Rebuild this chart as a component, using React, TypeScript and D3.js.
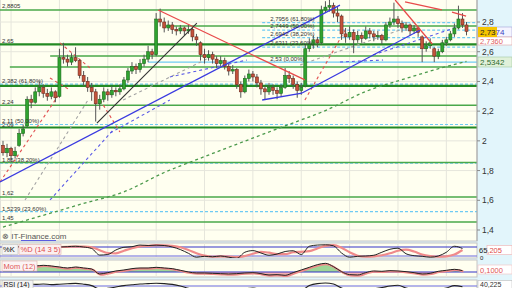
import React from "react";
import * as d3 from "d3";

// ---------- DATA ----------
// candles: [open, high, low, close]
const candles: [number, number, number, number][] = [
  [1.97, 2.0, 1.9, 1.92], [1.92, 1.98, 1.89, 1.95], [1.95, 1.96, 1.86, 1.9], [1.9, 1.96, 1.88, 1.93],
  [1.97, 2.08, 1.96, 2.05], [2.05, 2.11, 2.03, 2.08], [2.1, 2.3, 2.09, 2.28], [2.28, 2.31, 2.22, 2.26],
  [2.26, 2.36, 2.25, 2.33], [2.33, 2.4, 2.3, 2.36], [2.36, 2.38, 2.29, 2.32], [2.32, 2.35, 2.27, 2.3],
  [2.3, 2.36, 2.28, 2.33], [2.33, 2.34, 2.26, 2.29], [2.3, 2.62, 2.29, 2.56], [2.56, 2.66, 2.52, 2.55],
  [2.55, 2.58, 2.5, 2.53], [2.53, 2.59, 2.51, 2.56], [2.56, 2.63, 2.53, 2.54], [2.54, 2.55, 2.42, 2.44],
  [2.44, 2.47, 2.37, 2.4], [2.4, 2.43, 2.33, 2.36], [2.36, 2.39, 2.27, 2.33], [2.33, 2.35, 2.13, 2.25],
  [2.25, 2.31, 2.21, 2.28], [2.28, 2.36, 2.26, 2.33], [2.33, 2.35, 2.27, 2.31], [2.31, 2.37, 2.29, 2.34],
  [2.34, 2.36, 2.3, 2.33], [2.33, 2.38, 2.31, 2.35], [2.35, 2.43, 2.34, 2.41], [2.41, 2.49, 2.39, 2.47],
  [2.47, 2.53, 2.45, 2.5], [2.5, 2.52, 2.45, 2.48], [2.48, 2.55, 2.46, 2.52], [2.52, 2.58, 2.5, 2.55],
  [2.55, 2.64, 2.53, 2.6], [2.6, 2.62, 2.55, 2.58], [2.58, 2.86, 2.57, 2.82], [2.82, 2.89, 2.77, 2.8],
  [2.8, 2.83, 2.73, 2.76], [2.76, 2.81, 2.74, 2.78], [2.78, 2.8, 2.72, 2.75], [2.75, 2.77, 2.71, 2.74],
  [2.74, 2.78, 2.72, 2.76], [2.76, 2.77, 2.71, 2.74], [2.74, 2.78, 2.72, 2.75], [2.75, 2.76, 2.67, 2.7],
  [2.7, 2.72, 2.64, 2.68], [2.66, 2.67, 2.54, 2.58], [2.58, 2.62, 2.52, 2.56], [2.56, 2.61, 2.54, 2.58],
  [2.58, 2.6, 2.52, 2.55], [2.55, 2.57, 2.49, 2.52], [2.52, 2.57, 2.5, 2.54], [2.54, 2.56, 2.48, 2.5],
  [2.5, 2.52, 2.44, 2.47], [2.47, 2.51, 2.45, 2.48], [2.48, 2.49, 2.35, 2.38], [2.38, 2.4, 2.29, 2.33],
  [2.33, 2.44, 2.32, 2.42], [2.42, 2.48, 2.4, 2.45], [2.45, 2.47, 2.4, 2.43], [2.43, 2.45, 2.36, 2.39],
  [2.39, 2.41, 2.31, 2.35], [2.35, 2.37, 2.28, 2.33], [2.33, 2.39, 2.31, 2.36], [2.36, 2.38, 2.31, 2.34],
  [2.34, 2.36, 2.28, 2.32], [2.32, 2.38, 2.3, 2.36], [2.36, 2.49, 2.35, 2.44], [2.44, 2.47, 2.39, 2.42],
  [2.42, 2.44, 2.35, 2.38], [2.38, 2.4, 2.29, 2.34], [2.34, 2.39, 2.31, 2.36], [2.37, 2.65, 2.36, 2.62],
  [2.62, 2.69, 2.6, 2.65], [2.65, 2.71, 2.62, 2.68], [2.68, 2.7, 2.63, 2.66], [2.66, 2.91, 2.65, 2.88],
  [2.88, 2.94, 2.86, 2.9], [2.9, 2.95, 2.87, 2.91], [2.91, 2.93, 2.83, 2.86], [2.86, 2.9, 2.8, 2.84],
  [2.84, 2.85, 2.68, 2.72], [2.72, 2.76, 2.66, 2.7], [2.7, 2.77, 2.68, 2.73], [2.73, 2.75, 2.59, 2.68],
  [2.68, 2.74, 2.66, 2.71], [2.71, 2.73, 2.66, 2.69], [2.69, 2.77, 2.68, 2.74], [2.74, 2.76, 2.69, 2.72],
  [2.72, 2.74, 2.67, 2.7], [2.7, 2.74, 2.68, 2.71], [2.71, 2.72, 2.65, 2.68], [2.68, 2.8, 2.67, 2.78],
  [2.78, 2.83, 2.76, 2.8], [2.8, 2.93, 2.78, 2.82], [2.82, 2.84, 2.76, 2.79], [2.79, 2.81, 2.73, 2.76],
  [2.76, 2.8, 2.74, 2.78], [2.78, 2.79, 2.71, 2.74], [2.74, 2.78, 2.72, 2.76], [2.76, 2.77, 2.7, 2.73],
  [2.7, 2.71, 2.53, 2.62], [2.62, 2.67, 2.6, 2.64], [2.64, 2.69, 2.62, 2.66], [2.62, 2.63, 2.53, 2.57],
  [2.57, 2.62, 2.55, 2.6], [2.6, 2.68, 2.59, 2.66], [2.66, 2.7, 2.64, 2.68], [2.68, 2.74, 2.67, 2.72],
  [2.72, 2.79, 2.7, 2.76], [2.76, 2.91, 2.75, 2.82], [2.82, 2.86, 2.76, 2.78], [2.78, 2.8, 2.71, 2.7374],
];

const priceTicks = [2.8, 2.6, 2.4, 2.2, 2.0, 1.8, 1.6, 1.4];
const priceTickLabels = ["2,8", "2,6", "2,4", "2,2", "2", "1,8", "1,6", "1,4"];
const gridBars = [2, 14, 26, 38, 50, 62, 74, 86, 98, 110];

// horizontal support / resistance levels (green)
const supportPrices = [2.8805, 2.773, 2.65, 2.571, 2.497, 2.37, 2.24, 2.09, 1.855, 1.622, 1.454];
const supportFromBar = [-1, 40.5, -1, 11.7, 1.7, -1, -1, -1, -1, -1, -1];
const majorSupports = [2.65, 2.37, 2.09];
const levelLabelPrices = [2.8805, 2.65, 2.24, 1.622, 1.454];
const levelLabelTexts = ["2,8805", "2,65", "2,24", "1,62", "1,45"];

// long-term Fibonacci retracement (left)
const fibLeftPrices = [2.382, 2.11, 1.85, 1.5239];
const fibLeftTexts = ["2,382 (61,80%)", "2,11 (50,00%)", "1,85 (38,20%)", "1,5239 (23,60%)"];
// short-term Fibonacci retracement (right)
const fibRightPrices = [2.7956, 2.7449, 2.6942, 2.6311];
const fibRightTexts = ["2,7956 (61,80%)", "2,7449 (50,00%)", "2,6942 (38,20%)", "2,6311 (23,60%)"];
const fibRightFromBar = 64.3;
const fibZeroPrice = 2.53;
const fibZeroText = "2,53 (0,00%)";
const fibZeroFromBar = 36;

// long moving average (bar index, value)
const maBars = [0, 10, 20, 30, 40, 50, 60, 70, 80, 90, 100, 110, 115];
const maValues = [1.42, 1.499, 1.579, 1.657, 1.787, 1.894, 1.998, 2.101, 2.204, 2.332, 2.42, 2.5, 2.5342];

// drawn trend lines [bar1, price1, bar2, price2]
const blueSolid = [[-0.74, 1.723, 83.6, 2.914], [64.3, 2.275, 74.2, 2.322], [74.2, 2.322, 103.5, 2.746]];
const redSolid = [[38.5, 2.881, 74.9, 2.41], [97.3, 2.948, 106.5, 2.652], [99.75, 2.935, 108.9, 2.881], [111.4, 2.867, 114.9, 2.84]];
const blackSolid = [[23.3, 2.12, 48.1, 2.793]];
const redDashed = [[-0.74, 1.723, 14.14, 2.322], [14.14, 2.659, 21.6, 2.49], [11.66, 2.423, 16.6, 2.342], [24.1, 2.275, 29.0, 2.06], [74.9, 2.275, 84.9, 2.746]];
const grayDashed = [[5.46, 1.602, 21.1, 2.275], [29.8, 2.275, 52.6, 2.578], [73.7, 2.511, 98.5, 2.746]];
const blueDashed = [[11.66, 1.602, 27.8, 2.087], [26.6, 2.053, 41.4, 2.275], [41.4, 2.43, 60.5, 2.544], [83.6, 2.531, 94.3, 2.544], [91.8, 2.578, 112.7, 2.766]];

// indicators, one value every 2 bars
const stochK = [80, 78, 82, 85, 80, 83, 78, 80, 82, 85, 80, 70, 26, 30, 60, 78, 82, 93, 90, 92, 90, 80, 63, 38, 12, 18, 15, 20, 12, 5, 45, 56, 40, 25, 33, 50, 55, 30, 85, 93, 95, 88, 40, 12, 18, 20, 25, 45, 65, 72, 35, 22, 18, 12, 20, 45, 85, 70];
const stochD = [80, 79, 80, 82, 82, 81, 80, 80, 81, 83, 82, 78, 58, 40, 38, 55, 72, 84, 88, 92, 91, 87, 78, 60, 38, 22, 15, 17, 16, 12, 20, 35, 48, 42, 32, 32, 45, 48, 52, 70, 88, 93, 75, 45, 22, 15, 18, 25, 38, 55, 62, 50, 30, 20, 15, 18, 30, 60];
const momentum = [0.2, 0.21, 0.2, 0.19, 0.18, 0.2, 0.18, 0.15, 0.12, 0.15, 0.12, 0.09, -0.06, -0.02, 0.03, 0.06, 0.1, 0.12, 0.12, 0.14, 0.12, 0.1, 0.05, 0.0, -0.03, -0.03, -0.04, -0.05, -0.06, -0.05, -0.03, -0.02, -0.05, -0.09, -0.08, -0.1, -0.02, 0.06, 0.14, 0.22, 0.26, 0.16, 0.01, -0.08, -0.09, -0.02, 0.03, 0.02, 0.04, 0.03, 0.01, -0.02, -0.06, -0.04, 0.02, 0.05, 0.08, 0.04];
const rsi = [78, 76, 80, 82, 78, 80, 77, 79, 81, 83, 79, 72, 55, 58, 65, 72, 76, 80, 82, 84, 82, 78, 70, 58, 48, 50, 48, 50, 46, 42, 55, 60, 52, 45, 48, 55, 56, 50, 72, 82, 85, 80, 60, 48, 50, 52, 56, 62, 70, 74, 60, 52, 48, 44, 52, 60, 72, 66];

// ---------- CHART ----------
const FONT = "'Liberation Sans', Arial, sans-serif";
const PLOT_R = 477;
const MAIN_B = 241;

export default function App() {
  const x = d3.scaleLinear().domain([0, 115]).range([3, 466.5]);
  const y = d3.scaleLinear().domain([1.4, 2.8]).range([230, 22]);
  const xj = (j: number) => x(j * 2);
  const ys = d3.scaleLinear().domain([0, 100]).range([259, 244]);
  const ym = d3.scaleLinear().domain([-0.16, 0.36]).range([277.3, 260]);
  const yr = d3.scaleLinear().domain([0, 100]).range([300, 280]);

  const maLine = d3.line<number>().x((_, i) => x(maBars[i])).y((v) => y(v)).curve(d3.curveMonotoneX)(maValues) || "";
  const kLine = d3.line<number>().x((_, i) => xj(i)).y((v) => ys(v)).curve(d3.curveMonotoneX);
  const mLine = d3.line<number>().x((_, i) => xj(i)).y((v) => ym(v)).curve(d3.curveMonotoneX);
  const mArea = d3.area<number>().x((_, i) => xj(i)).y0(ym(0)).y1((v) => ym(v)).curve(d3.curveMonotoneX);
  const rLine = d3.line<number>().x((_, i) => xj(i)).y((v) => yr(v)).curve(d3.curveMonotoneX);

  const seg = (s: number[], i: number, stroke: string, w: number, dash?: string) => (
    <line key={stroke + i + (dash || "")} x1={x(s[0])} y1={y(s[1])} x2={x(s[2])} y2={y(s[3])}
      stroke={stroke} strokeWidth={w} strokeDasharray={dash} />
  );

  return (
    <div style={{ position: "absolute", left: 0, top: 0 }}>
      <svg width={512} height={288} style={{ display: "block", fontFamily: FONT }}>
        <defs>
          <clipPath id="mainClip"><rect x={0} y={0} width={PLOT_R} height={MAIN_B} /></clipPath>
          <clipPath id="stochClip"><rect x={0} y={243} width={PLOT_R} height={15} /></clipPath>
          <clipPath id="momUp"><rect x={0} y={260} width={PLOT_R} height={ym(0) - 260} /></clipPath>
          <clipPath id="momDn"><rect x={0} y={ym(0)} width={PLOT_R} height={277 - ym(0)} /></clipPath>
          <clipPath id="momClip"><rect x={0} y={260} width={PLOT_R} height={17} /></clipPath>
          <clipPath id="rsiClip"><rect x={0} y={280} width={PLOT_R} height={10} /></clipPath>
        </defs>

        <rect x={0} y={0} width={512} height={288} fill="#e2f5fb" />
        {/* main panel */}
        <rect x={0} y={-1} width={PLOT_R} height={MAIN_B + 1} fill="#fffff0" stroke="#c4c4c4" />
        <g clipPath="url(#mainClip)">
          {gridBars.map((b) => (
            <line key={"gv" + b} x1={x(b)} x2={x(b)} y1={0} y2={MAIN_B} stroke="#e6e6dc" />
          ))}
          {priceTicks.map((p) => (
            <line key={"gh" + p} x1={0} x2={PLOT_R} y1={y(p)} y2={y(p)} stroke="#e6e6dc" />
          ))}
          {/* fib lines */}
          {fibLeftPrices.map((p) => (
            <line key={"fl" + p} x1={0} x2={PLOT_R} y1={y(p)} y2={y(p)} stroke="#6fcbf3" strokeWidth={1.2} strokeDasharray="3,2" />
          ))}
          {fibRightPrices.map((p) => (
            <line key={"fr" + p} x1={x(fibRightFromBar)} x2={PLOT_R} y1={y(p)} y2={y(p)} stroke="#6fcbf3" strokeWidth={1.2} strokeDasharray="3,2" />
          ))}
          <line x1={x(fibZeroFromBar)} x2={PLOT_R} y1={y(fibZeroPrice)} y2={y(fibZeroPrice)} stroke="#6fcbf3" strokeWidth={1.3} />
          {/* support levels */}
          {supportPrices.map((p, i) => {
            const major = majorSupports.includes(p);
            return (
              <line key={"s" + p} x1={x(supportFromBar[i])} x2={PLOT_R} y1={y(p)} y2={y(p)}
                stroke={major ? "#238a23" : "#4aa84a"} strokeWidth={major ? 2.2 : 1.5} />
            );
          })}
          {/* dashed lines */}
          {grayDashed.map((s, i) => seg(s, i, "#a3a3a3", 1.1, "3,3"))}
          {blueDashed.map((s, i) => seg(s, i, "#5b5be6", 1.1, "3,3"))}
          {redDashed.map((s, i) => seg(s, i, "#e25050", 1.1, "3,3"))}
          <path d={maLine} fill="none" stroke="#4c9a4c" strokeWidth={1.3} strokeDasharray="3,3" />
          {/* candles */}
          {candles.map(([o, h, l, c], i) => {
            const up = c >= o;
            const cx = x(i);
            const top = y(Math.max(o, c));
            const ht = Math.max(1, Math.abs(y(o) - y(c)));
            return (
              <g key={"c" + i}>
                <line x1={cx} x2={cx} y1={y(h)} y2={y(l)} stroke="#555" strokeWidth={1} />
                <rect x={cx - 1.5} y={top} width={3} height={ht}
                  fill={up ? "#2fa32f" : "#c4523a"} stroke={up ? "#1d6b1d" : "#6e2b1f"} strokeWidth={0.6} />
              </g>
            );
          })}
          {/* solid trend lines */}
          {blueSolid.map((s, i) => seg(s, i, "#3a3ae0", 1.3))}
          {redSolid.map((s, i) => seg(s, i, "#e84a4a", 1.3))}
          {blackSolid.map((s, i) => seg(s, i, "#333", 1.1))}

          {/* level labels */}
          <g fontSize={6} fill="#333">
            {levelLabelPrices.map((p, i) => (
              <text key={"ll" + i} x={2} y={y(p) - 1.6}>{levelLabelTexts[i]}</text>
            ))}
            {fibLeftPrices.map((p, i) => (
              <text key={"fll" + i} x={2} y={y(p) - (p === 2.11 ? 2 : 0.7)}>{fibLeftTexts[i]}</text>
            ))}
            <text x={2} y={y(2.09) - 0.5}>2,09</text>
            {fibRightPrices.map((p, i) => (
              <text key={"frl" + i} x={x(fibRightFromBar) + 8} y={y(p) - 2}>{fibRightTexts[i]}</text>
            ))}
            <text x={x(fibRightFromBar) + 8} y={y(fibZeroPrice) - 1.6}>{fibZeroText}</text>
          </g>
          <text x={2} y={239} fontSize={8} fill="#555">⊗ IT-Finance.com</text>
          <line x1={21} x2={56} y1={240.5} y2={240.5} stroke="#3a3ae0" strokeWidth={0.8} />
        </g>

        {/* price axis */}
        <line x1={PLOT_R} x2={PLOT_R} y1={0} y2={MAIN_B} stroke="#a8a8a8" />
        {priceTicks.map((p, i) => (
          <g key={"t" + p}>
            <line x1={PLOT_R} x2={PLOT_R + 3} y1={y(p)} y2={y(p)} stroke="#888" />
            <text x={482} y={y(p)} dy="0.35em" fontSize={8.5} fill="#333">{priceTickLabels[i]}</text>
          </g>
        ))}
        {/* last price labels */}
        <rect x={478} y={27} width={34} height={10} fill="#f4f4ff" stroke="#a0a0d8" strokeWidth={0.6} />
        <rect x={478} y={37} width={34} height={8} fill="#fff" stroke="#e0a0a0" strokeWidth={0.6} />
        <text x={480} y={44} fontSize={7.5} fill="#e06060">2,7360</text>
        <rect x={478} y={27} width={19} height={10} fill="#f5c400" />
        <text x={480} y={35} fontSize={8}><tspan fill="#222">2,73</tspan><tspan fill="#4040c0">74</tspan></text>
        <rect x={478} y={57} width={34} height={10} fill="#e0f1da" stroke="#a2c8a2" strokeWidth={0.6} />
        <text x={480} y={65} fontSize={8} fill="#2d6b2d">2,5342</text>

        {/* stochastic panel */}
        <rect x={0} y={243} width={PLOT_R} height={15} fill="#fffff0" stroke="#c4c4c4" />
        <g clipPath="url(#stochClip)">
          {gridBars.map((b) => (
            <line key={"sv" + b} x1={x(b)} x2={x(b)} y1={243} y2={258} stroke="#e6e6dc" />
          ))}
          <line x1={0} x2={PLOT_R} y1={ys(80)} y2={ys(80)} stroke="#3535c8" strokeWidth={1.2} />
          <line x1={0} x2={PLOT_R} y1={ys(20)} y2={ys(20)} stroke="#6a6ae0" strokeWidth={1.2} />
          <path d={kLine(stochD) || ""} fill="none" stroke="#f08a8a" strokeWidth={2.2} />
          <path d={kLine(stochK) || ""} fill="none" stroke="#222" strokeWidth={1} />
        </g>
        <rect x={2} y={244.5} width={16} height={10} fill="#f4f4f4" stroke="#bbb" strokeWidth={0.6} />
        <text x={3} y={252.3} fontSize={7.5} fill="#111">%K</text>
        <rect x={19} y={244.5} width={42} height={10} fill="#fbf0f0" stroke="#e0b0b0" strokeWidth={0.6} />
        <text x={20.5} y={252.3} fontSize={7.5} fill="#e04a4a">%D (14 3 5)</text>
        <rect x={487} y={245.5} width={25} height={9} fill="#fff" stroke="#f0b0b0" strokeWidth={0.6} />
        <text x={479} y={253} fontSize={7.5} fill="#222">65<tspan fill="#e04a4a">,205</tspan></text>
        <text x={480} y={259.5} fontSize={6} fill="#222">0</text>

        {/* momentum panel */}
        <rect x={0} y={260} width={PLOT_R} height={17} fill="#fffff0" stroke="#c4c4c4" />
        <g clipPath="url(#momClip)">
          {gridBars.map((b) => (
            <line key={"mv" + b} x1={x(b)} x2={x(b)} y1={260} y2={277} stroke="#e6e6dc" />
          ))}
          <path d={mArea(momentum) || ""} fill="#9fd596" clipPath="url(#momUp)" />
          <path d={mArea(momentum) || ""} fill="#f3b0b0" clipPath="url(#momDn)" />
          <line x1={0} x2={PLOT_R} y1={ym(0)} y2={ym(0)} stroke="#3535c8" strokeWidth={1.2} />
          <path d={mLine(momentum) || ""} fill="none" stroke="#f08a8a" strokeWidth={2} transform="translate(1,0.8)" />
          <path d={mLine(momentum) || ""} fill="none" stroke="#222" strokeWidth={1} />
        </g>
        <rect x={2} y={261} width={35} height={10} fill="#fbf4f4" stroke="#e0b0b0" strokeWidth={0.6} />
        <text x={3.5} y={268.8} fontSize={7.5} fill="#e05555">Mom (12)</text>
        <rect x={478} y={265} width={34} height={9} fill="#fff" stroke="#f0c0c0" strokeWidth={0.6} />
        <text x={480} y={272.5} fontSize={7.5} fill="#e05555">0,1000</text>

        {/* RSI panel */}
        <rect x={0} y={280} width={PLOT_R} height={12} fill="#fffff0" stroke="#c4c4c4" />
        <g clipPath="url(#rsiClip)">
          <line x1={0} x2={PLOT_R} y1={yr(70)} y2={yr(70)} stroke="#6a6ae0" strokeWidth={1.2} />
          <path d={rLine(rsi) || ""} fill="none" stroke="#222" strokeWidth={1.1} />
        </g>
        <rect x={2} y={280.5} width={31} height={9} fill="#f4f4f4" stroke="#bbb" strokeWidth={0.6} />
        <text x={3.5} y={287.3} fontSize={7} fill="#111">RSI (14)</text>
        <rect x={478} y={280.5} width={34} height={9} fill="#fff" stroke="#bbb" strokeWidth={0.6} />
        <text x={480} y={287.3} fontSize={7} fill="#333">40,225</text>
      </svg>
    </div>
  );
}
